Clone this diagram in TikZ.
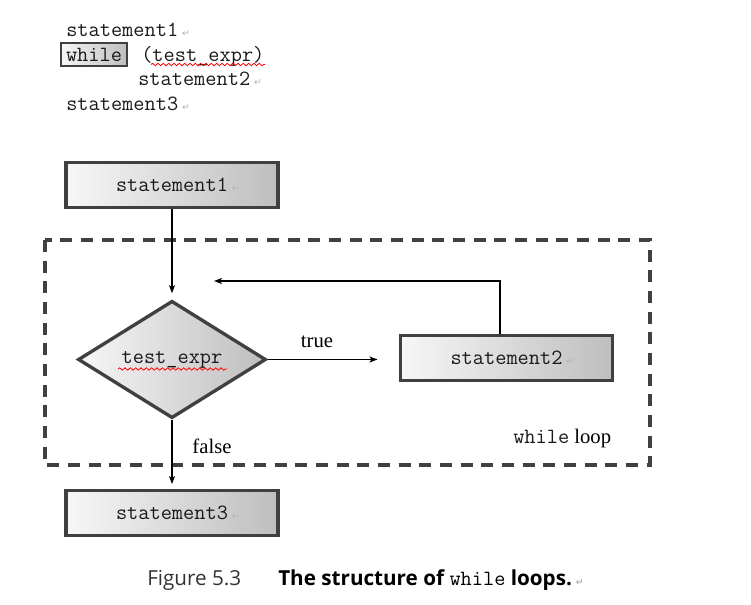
\documentclass[tikz,border=0pt]{standalone}
\usepackage{fontspec}
\setmainfont{Liberation Serif}
\newfontfamily\capfont{Open Sans}
\newfontfamily\symfont{DejaVu Sans}
\usetikzlibrary{shapes.geometric,arrows.meta,decorations.pathmorphing}
\definecolor{boxline}{HTML}{404040}
\definecolor{shadeL}{HTML}{F7F7F7}
\definecolor{shadeR}{HTML}{BEBEBE}
\definecolor{codetxt}{HTML}{1A1A1A}
\newcommand{\retmark}{{\symfont\fontsize{7}{8}\selectfont\color{gray!60}↵}}
\newcommand{\codefont}{\ttfamily\fontsize{16.3}{19}\selectfont\color{codetxt}}
\begin{document}
\begin{tikzpicture}[x=0.75pt,y=-0.75pt,
  box/.style={draw=boxline, line width=2.5pt, left color=shadeL, right color=shadeR,
    minimum width=159pt, minimum height=34pt, inner sep=0pt, font=\codefont},
  code/.style={anchor=base west, inner sep=0pt, font=\codefont},
  arr/.style={draw=black, line width=0.8pt, -{Stealth[length=6pt,width=4.5pt,inset=1.5pt]}},
  lab/.style={inner sep=0pt, font=\fontsize{15.5}{18}\selectfont},
  wavy/.style={draw=red, line width=0.6pt, decorate, decoration={snake, amplitude=0.9pt, segment length=4pt}}]
\useasboundingbox (0,0) rectangle (751,605);

% code listing
\node[code] (c1) at (66,37) {statement1\hspace{3pt}\retmark};
\node[draw=boxline, line width=1.6pt, left color=shadeL, right color=shadeR,
  minimum width=49pt, minimum height=17.5pt, inner sep=0pt, font=\codefont] (c2w) at (94,54.5) {while};
\node[code] (c2) at (141,61.5) {(test\_expr)};
\node[code] (c3) at (138,86) {statement2\hspace{3pt}\retmark};
\node[code] (c4) at (66,110.5) {statement3\hspace{3pt}\retmark};
\draw[wavy] (151,64.5) -- (265,64.5);

% loop frame
\draw[boxline, line width=2.4pt, dash pattern=on 9pt off 6.5pt] (45,240) rectangle (650,465);

% flowchart
\node[box] (s1) at (172,185) {statement1\rlap{\hspace{3pt}\retmark}};
\node[diamond, draw=boxline, line width=2.5pt, left color=shadeL, right color=shadeR,
  minimum width=141pt, minimum height=88pt, aspect=1.58, inner sep=0pt, font=\codefont]
  (d) at (172,359.5) {test\_expr};
\draw[wavy] (118,369) -- (227,369);
\node[box] (s2) at (506.5,358) {statement2\rlap{\hspace{3pt}\retmark}};
\node[box] (s3) at (172,513) {statement3\rlap{\hspace{3pt}\retmark}};

\coordinate (up) at (500,281);
\coordinate (back) at (214,281);

\draw[arr, shorten >=4.5pt] (s1.south) -- (d.north);
\draw[arr, shorten >=16pt] (d.east) -- (d.east -| s2.west);
\draw[arr] (s2.north -| up) -- (up) -- (back);
\draw[arr, shorten >=3.5pt] (d.south) -- (s3.north);

\node[lab] (t) at (317,342) {true};
\node[lab] (f) at (212,446) {false};
\node[anchor=base west, inner sep=0pt, font=\fontsize{15.5}{18}\selectfont] (wl) at (513,443.5) {{\codefont while}\ loop};

% caption
\node[anchor=base west, inner sep=0pt, font=\capfont\fontsize{15.5}{18}\selectfont, text=black!80] (cap1) at (147,586) {Figure 5.3};
\node[anchor=base west, inner sep=0pt, font=\capfont\bfseries\fontsize{15.5}{18}\selectfont] (cap2) at (278,586)
  {The structure of {\codefont\mdseries\color{black}while} loops.\hspace{3pt}\retmark};
\end{tikzpicture}
\end{document}
